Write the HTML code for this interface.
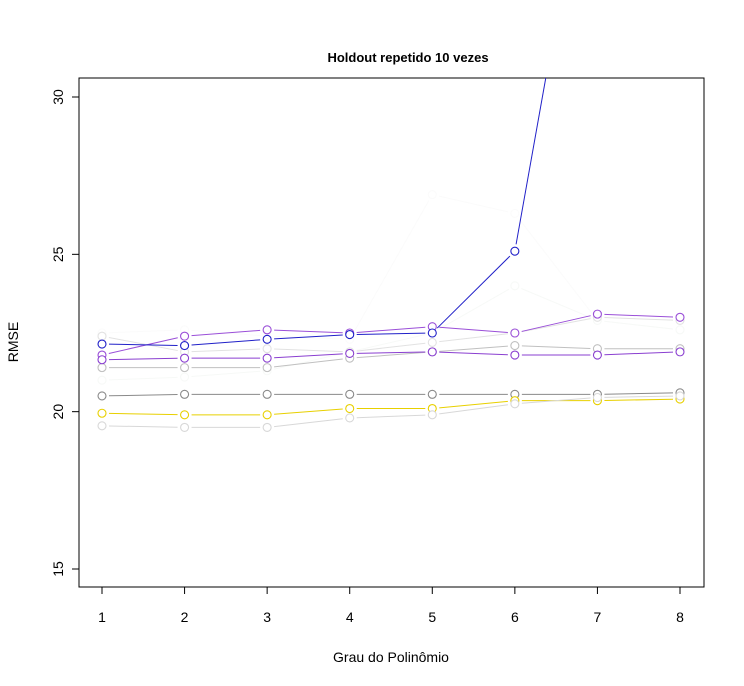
<!DOCTYPE html>
<html><head><meta charset="utf-8"><style>
body{margin:0;background:#fff;}
svg{display:block;font-family:"Liberation Sans",sans-serif;}
</style></head><body>
<svg id="chart" width="744" height="686">
<defs><clipPath id="clip"><rect x="79" y="78" width="625" height="509"/></clipPath></defs>
<text x="408" y="62" text-anchor="middle" font-weight="bold" font-size="13">Holdout repetido 10 vezes</text>
<rect x="79" y="78" width="625" height="509" fill="none" stroke="#000" stroke-width="1"/>
<g id="axes"></g>
<g id="series" clip-path="url(#clip)"></g>
<text x="391" y="662" text-anchor="middle" font-size="14">Grau do Polinômio</text>
<text transform="translate(18,342) rotate(-90)" text-anchor="middle" font-size="14">RMSE</text>
</svg>
<script>
const degrees = [1,2,3,4,5,6,7,8];
const yTicks = [15,20,25,30];
const seriesColors = ["#fbfbfb","#f7f9f7","#e2e2e2","#c0c0c0","#8a8a8a","#e8d000","#9a4fd8","#8a3fd0","#2020c8","#d8d8d8"];
const s0 = [22.5,22.6,22.4,22.3,26.9,26.3,22.9,22.6];
const s1 = [21.0,21.1,21.3,21.9,22.5,24.0,22.9,22.6];
const s2 = [22.4,21.9,22.0,21.9,22.2,22.5,23.0,22.9];
const s3 = [21.4,21.4,21.4,21.7,21.9,22.1,22.0,22.0];
const s4 = [20.5,20.55,20.55,20.55,20.55,20.55,20.55,20.6];
const s5 = [19.95,19.9,19.9,20.1,20.1,20.35,20.35,20.4];
const s6 = [21.8,22.4,22.6,22.5,22.7,22.5,23.1,23.0];
const s7 = [21.65,21.7,21.7,21.85,21.9,21.8,21.8,21.9];
const s8 = [22.15,22.1,22.3,22.45,22.5,25.1,39.8,39.8];
const s9 = [19.55,19.5,19.5,19.8,19.9,20.25,20.45,20.5];
const allSeries = [s0,s1,s2,s3,s4,s5,s6,s7,s8,s9];
const X0=102, X1=680, Y15=569, Y30=97;
function xs(v){return X0+(v-1)*(X1-X0)/7;}
function ys(v){return Y15-(v-15)*(Y15-Y30)/15;}
const NS="http://www.w3.org/2000/svg";
const axes=document.getElementById('axes');
function mk(tag,attrs,parent){const e=document.createElementNS(NS,tag);for(const k in attrs)e.setAttribute(k,attrs[k]);parent.appendChild(e);return e;}
mk('line',{x1:xs(1),x2:xs(8),y1:587,y2:587,stroke:'#000'},axes);
degrees.forEach(d=>{
  const t=mk('line',{x1:xs(d),x2:xs(d),y1:587,y2:594,stroke:'#000'},axes);
  
  
  const l=mk('text',{x:xs(d),y:622,'text-anchor':'middle','font-size':14},axes);
  l.textContent=d;
  
  
});
mk('line',{x1:79,x2:79,y1:ys(15),y2:ys(30),stroke:'#000'},axes);
yTicks.forEach(v=>{
  const t=mk('line',{x1:72,x2:79,y1:ys(v),y2:ys(v),stroke:'#000'},axes);
  
  
  const l=mk('text',{transform:`translate(63,${ys(v)}) rotate(-90)`,'text-anchor':'middle','font-size':14},axes);
  l.textContent=v;
  
  
});
const sg=document.getElementById('series');
allSeries.forEach((s,i)=>{
  const g=mk('g',{},sg);
  
  
  const c=seriesColors[i];
  for(let j=0;j<s.length-1;j++){
    const x1=xs(degrees[j]),y1=ys(s[j]),x2=xs(degrees[j+1]),y2=ys(s[j+1]);
    const dx=x2-x1,dy=y2-y1,L=Math.hypot(dx,dy),r=7;
    if(L>2*r) mk('line',{x1:x1+dx*r/L,y1:y1+dy*r/L,x2:x2-dx*r/L,y2:y2-dy*r/L,stroke:c,'stroke-width':1},g);
  }
  s.forEach((v,j)=>{
    const p=mk('circle',{cx:xs(degrees[j]),cy:ys(v),r:4,fill:'#fff',stroke:c,'stroke-width':1.1},g);
    
    
  });
});
</script>
</body></html>
